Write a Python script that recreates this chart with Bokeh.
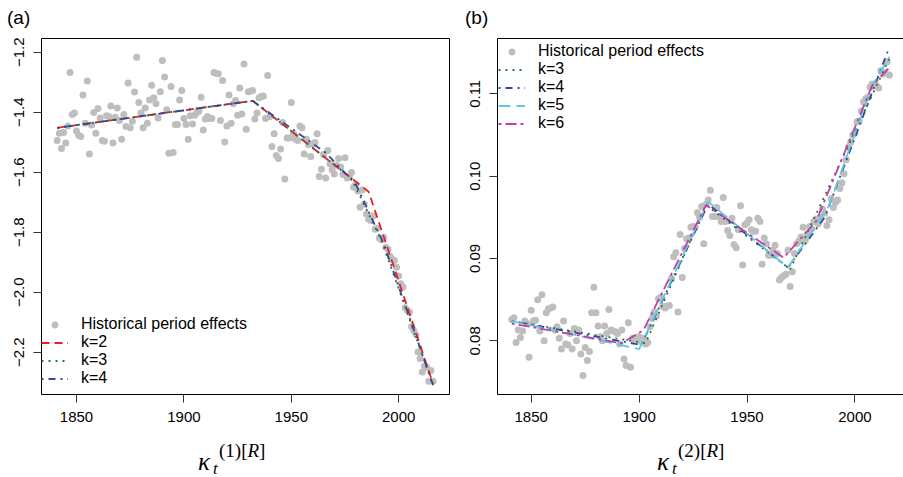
from bokeh.plotting import figure
from bokeh.layouts import row, column
from bokeh.models import Range1d, FixedTicker, Legend, LegendItem, LinearAxis, Div
from bokeh.embed import file_html
from bokeh.resources import INLINE

# ---------------- data ----------------
years = list(range(1841, 2017))

kappa1 = [
    -1.494, -1.470, -1.521, -1.468, -1.503, -1.446, -1.268, -1.408, -1.403, -1.463,
    -1.477, -1.481, -1.343, -1.437, -1.296, -1.539, -1.443, -1.401, -1.470, -1.388,
    -1.419, -1.494, -1.497, -1.412, -1.414, -1.379, -1.503, -1.417, -1.386, -1.428,
    -1.490, -1.408, -1.448, -1.303, -1.452, -1.430, -1.333, -1.217, -1.368, -1.403,
    -1.452, -1.386, -1.437, -1.359, -1.310, -1.352, -1.372, -1.419, -1.332, -1.228,
    -1.283, -1.392, -1.537, -1.314, -1.534, -1.441, -1.441, -1.359, -1.328, -1.421,
    -1.441, -1.490, -1.412, -1.439, -1.410, -1.401, -1.397, -1.350, -1.459, -1.423,
    -1.414, -1.421, -1.421, -1.268, -1.270, -1.272, -1.428, -1.294, -1.499, -1.446,
    -1.343, -1.437, -1.372, -1.361, -1.410, -1.319, -1.406, -1.239, -1.457, -1.332,
    -1.330, -1.328, -1.423, -1.403, -1.352, -1.348, -1.346, -1.421, -1.278, -1.414,
    -1.514, -1.472, -1.544, -1.554, -1.523, -1.434, -1.623, -1.486, -1.486, -1.368,
    -1.472, -1.490, -1.494, -1.446, -1.452, -1.539, -1.490, -1.508, -1.548, -1.506,
    -1.501, -1.472, -1.614, -1.590, -1.541, -1.619, -1.528, -1.572, -1.592, -1.606,
    -1.577, -1.554, -1.583, -1.608, -1.552, -1.619, -1.614, -1.601, -1.650, -1.641,
    -1.663, -1.717, -1.659, -1.706, -1.739, -1.757, -1.761, -1.746, -1.790, -1.788,
    -1.819, -1.825, -1.817, -1.850, -1.857, -1.881, -1.890, -1.894, -1.917, -1.946,
    -1.972, -1.983, -2.052, -2.061, -2.066, -2.114, -2.128, -2.141, -2.199, -2.221,
    -2.266, -2.246, -2.250, -2.297, -2.261, -2.297,
]

kappa2 = [
    0.0826, 0.0828, 0.0798, 0.0813, 0.0804, 0.0812, 0.0824, 0.0821, 0.0780, 0.0837,
    0.0824, 0.0825, 0.0850, 0.0812, 0.0856, 0.0800, 0.0834, 0.0839, 0.0840, 0.0841,
    0.0813, 0.0817, 0.0803, 0.0790, 0.0824, 0.0796, 0.0795, 0.0809, 0.0790, 0.0815,
    0.0800, 0.0813, 0.0784, 0.0758, 0.0792, 0.0776, 0.0787, 0.0834, 0.0865, 0.0834,
    0.0818, 0.0805, 0.0800, 0.0818, 0.0809, 0.0838, 0.0813, 0.0812, 0.0811, 0.0809,
    0.0796, 0.0813, 0.0778, 0.0770, 0.0822, 0.0768, 0.0803, 0.0802, 0.0804, 0.0805,
    0.0799, 0.0803, 0.0796, 0.0798, 0.0817, 0.0827, 0.0835, 0.0830, 0.0851, 0.0853,
    0.0842, 0.0840, 0.0842, 0.0843, 0.0876, 0.0902, 0.0907, 0.0835, 0.0929, 0.0877,
    0.0912, 0.0924, 0.0925, 0.0938, 0.0939, 0.0938, 0.0956, 0.0950, 0.0963, 0.0918,
    0.0966, 0.0971, 0.0983, 0.0951, 0.0951, 0.0962, 0.0951, 0.0945, 0.0974, 0.0945,
    0.0934, 0.0928, 0.0949, 0.0917, 0.0913, 0.0935, 0.0964, 0.0892, 0.0941, 0.0943,
    0.0947, 0.0935, 0.0933, 0.0933, 0.0949, 0.0945, 0.0893, 0.0925, 0.0918, 0.0904,
    0.0904, 0.0910, 0.0916, 0.0906, 0.0874, 0.0877, 0.0879, 0.0881, 0.0910, 0.0866,
    0.0884, 0.0906, 0.0918, 0.0921, 0.0926, 0.0938, 0.0922, 0.0930, 0.0939, 0.0936,
    0.0945, 0.0948, 0.0942, 0.0950, 0.0960, 0.0955, 0.0940, 0.0947, 0.0973, 0.0962,
    0.0968, 0.0971, 0.0985, 0.0992, 0.1003, 0.1020, 0.1035, 0.1041, 0.1050, 0.1052,
    0.1066, 0.1067, 0.1079, 0.1090, 0.1094, 0.1096, 0.1108, 0.1112, 0.1111, 0.1110,
    0.1107, 0.1128, 0.1124, 0.1126, 0.1139, 0.1123,
]

# fitted piecewise-linear trends, panel (a)
a_k2_x = [1841, 1932, 1986, 2016]
a_k2_y = [-1.452, -1.362, -1.665, -2.305]
a_k3_x = [1841, 1932, 1978, 1992, 2016]
a_k3_y = [-1.452, -1.362, -1.620, -1.828, -2.310]
a_k4_x = [1841, 1932, 1966, 1980, 1993, 2016]
a_k4_y = [-1.452, -1.362, -1.535, -1.640, -1.838, -2.310]

# fitted piecewise-linear trends, panel (b)
b_k3_x = [1841, 1903, 1931, 1970, 2016]
b_k3_y = [0.0824, 0.0797, 0.0965, 0.0887, 0.1143]
b_k4_x = [1841, 1901, 1932, 1969, 1986, 2016]
b_k4_y = [0.0824, 0.0795, 0.0966, 0.0889, 0.0950, 0.1157]
b_k5_x = [1841, 1900, 1932, 1969, 1988, 2008, 2016]
b_k5_y = [0.0824, 0.0790, 0.0969, 0.0889, 0.0964, 0.1110, 0.1145]
b_k6_x = [1841, 1892, 1902, 1931, 1967, 1982, 2008, 2016]
b_k6_y = [0.0821, 0.0797, 0.0813, 0.0965, 0.0901, 0.0945, 0.1110, 0.1132]

x_ticks = [1850, 1900, 1950, 2000]
a_y_ticks = [-1.2, -1.4, -1.6, -1.8, -2.0, -2.2]
a_y_labels = ["\u22121.2", "\u22121.4", "\u22121.6", "\u22121.8", "\u22122.0", "\u22122.2"]
b_y_ticks = [0.08, 0.09, 0.10, 0.11]
b_y_labels = ["0.08", "0.09", "0.10", "0.11"]

# ---------------- styling ----------------
SANS = "Liberation Sans"
GREY = "#bebebe"
C_RED = "#ee1c1c"
C_GREEN = "#1f7a3c"
C_BLUE = "#34479f"
C_CYAN = "#5cc8e0"
C_MAG = "#c2409e"
LW = 1.8

TOP_H = 30      # header strip with the panel letters
FIG_H = 407     # figures
BOT_H = 40      # strip with the axis titles
W1, W2 = 457, 446

a_xr = (1833.7, 2023.65)
a_yr = (-2.341, -1.1543)
b_xr = (1834.38, 2022.52)
b_yr = (0.07348, 0.11672)


def style_axes(p, yticks, ylabels):
    p.xaxis.ticker = FixedTicker(ticks=x_ticks)
    p.yaxis.ticker = FixedTicker(ticks=yticks)
    p.yaxis.major_label_overrides = {t: l for t, l in zip(yticks, ylabels)}
    for ax in (p.xaxis[0], p.yaxis[0]):
        ax.major_tick_out = 8
        ax.major_tick_in = 0
        ax.minor_tick_line_color = None
        ax.major_tick_line_color = "#333333"
        ax.major_label_text_font = SANS
        ax.major_label_text_font_size = "15px"
        ax.major_label_text_color = "black"
        ax.major_label_standoff = 9
    p.yaxis.major_label_orientation = "vertical"
    p.xgrid.grid_line_color = None
    p.ygrid.grid_line_color = None


def letter_div(width, x0, txt):
    html = ('<div style="position:relative;width:%dpx;height:%dpx;">'
            '<span style="position:absolute;left:%dpx;top:8px;font-family:\'Liberation Sans\';'
            'font-size:19px;line-height:19px;color:black;white-space:nowrap;">%s</span></div>'
            % (width, TOP_H, x0, txt))
    return Div(text=html, width=width, height=TOP_H, margin=(0, 0, 0, 0))


def math_div(width, x0, num):
    base = "position:absolute;font-family:'Liberation Serif';color:black;white-space:nowrap;"
    html = ('<div style="position:relative;width:%dpx;height:%dpx;">' % (width, BOT_H)
            + '<span style="%sleft:%dpx;top:12px;font-size:25px;line-height:25px;font-style:italic;">\u03ba</span>'
            % (base, x0)
            + '<span style="%sleft:%dpx;top:23px;font-size:17px;line-height:17px;font-style:italic;">t</span>'
            % (base, x0 + 15)
            + '<span style="%sleft:%dpx;top:4px;font-size:19px;line-height:19px;">(%d)[<i>R</i>]</span>'
            % (base, x0 + 21, num)
            + '</div>')
    return Div(text=html, width=width, height=BOT_H, margin=(0, 0, 0, 0))


# ---------------- panel (a) ----------------
p1 = figure(width=W1, height=FIG_H, output_backend="svg", toolbar_location=None,
            x_range=Range1d(*a_xr), y_range=Range1d(*a_yr),
            min_border_left=41, min_border_right=8, min_border_top=8, min_border_bottom=43)
p1.outline_line_color = "black"
p1.outline_line_width = 1
p1.background_fill_color = "white"
p1.border_fill_color = "white"
style_axes(p1, a_y_ticks, a_y_labels)
p1.xaxis.axis_line_color = None
p1.yaxis.axis_line_color = None

s1 = p1.scatter(years, kappa1, size=7, color=GREY, line_color=None)
r_a2 = p1.line(a_k2_x, a_k2_y, line_color=C_RED, line_width=LW, line_dash="8 5")
r_a3 = p1.line(a_k3_x, a_k3_y, line_color=C_GREEN, line_width=LW, line_dash="2 5")
r_a4 = p1.line(a_k4_x, a_k4_y, line_color=C_BLUE, line_width=LW, line_dash="2 5 7 5")

leg1 = Legend(items=[
    LegendItem(label="Historical period effects", renderers=[s1]),
    LegendItem(label="k=2", renderers=[r_a2]),
    LegendItem(label="k=3", renderers=[r_a3]),
    LegendItem(label="k=4", renderers=[r_a4]),
], location=(0, 7), padding=2, margin=0, spacing=0, label_height=17, glyph_height=17,
    glyph_width=27, label_standoff=13, border_line_color=None, background_fill_alpha=0,
    label_text_font=SANS, label_text_font_size="16px", label_text_color="black")
p1.add_layout(leg1)

# ---------------- panel (b) ----------------
p2 = figure(width=W2, height=FIG_H, output_backend="svg", toolbar_location=None,
            x_range=Range1d(*b_xr), y_range=Range1d(*b_yr),
            min_border_left=40, min_border_right=0, min_border_top=8, min_border_bottom=43)
p2.outline_line_color = None
p2.background_fill_color = "white"
p2.border_fill_color = "white"
style_axes(p2, b_y_ticks, b_y_labels)
p2.xaxis.axis_line_color = "black"
p2.yaxis.axis_line_color = "black"
top_axis = LinearAxis(ticker=FixedTicker(ticks=[]), axis_line_color="black",
                      major_tick_line_color=None, minor_tick_line_color=None)
p2.add_layout(top_axis, "above")

s2 = p2.scatter(years, kappa2, size=7, color=GREY, line_color=None)
r_b3 = p2.line(b_k3_x, b_k3_y, line_color=C_GREEN, line_width=LW, line_dash="2 5")
r_b4 = p2.line(b_k4_x, b_k4_y, line_color=C_BLUE, line_width=LW, line_dash="2 5 7 5")
r_b5 = p2.line(b_k5_x, b_k5_y, line_color=C_CYAN, line_width=LW, line_dash="12 6")
r_b6 = p2.line(b_k6_x, b_k6_y, line_color=C_MAG, line_width=LW, line_dash="3 4 11 4")

leg2 = Legend(items=[
    LegendItem(label="Historical period effects", renderers=[s2]),
    LegendItem(label="k=3", renderers=[r_b3]),
    LegendItem(label="k=4", renderers=[r_b4]),
    LegendItem(label="k=5", renderers=[r_b5]),
    LegendItem(label="k=6", renderers=[r_b6]),
], location=(1, 262), padding=2, margin=0, spacing=0, label_height=17, glyph_height=17,
    glyph_width=27, label_standoff=13, border_line_color=None, background_fill_alpha=0,
    label_text_font=SANS, label_text_font_size="16px", label_text_color="black")
p2.add_layout(leg2)

top_row = row(letter_div(W1, 7, "(a)"), letter_div(W2, 8, "(b)"), spacing=0)
fig_row = row(p1, p2, spacing=0)
bot_row = row(math_div(W1, 198, 1), math_div(W2, 200, 2), spacing=0)
layout = column(top_row, fig_row, bot_row, spacing=0)
open("out.html", "w").write(file_html(layout, INLINE))
